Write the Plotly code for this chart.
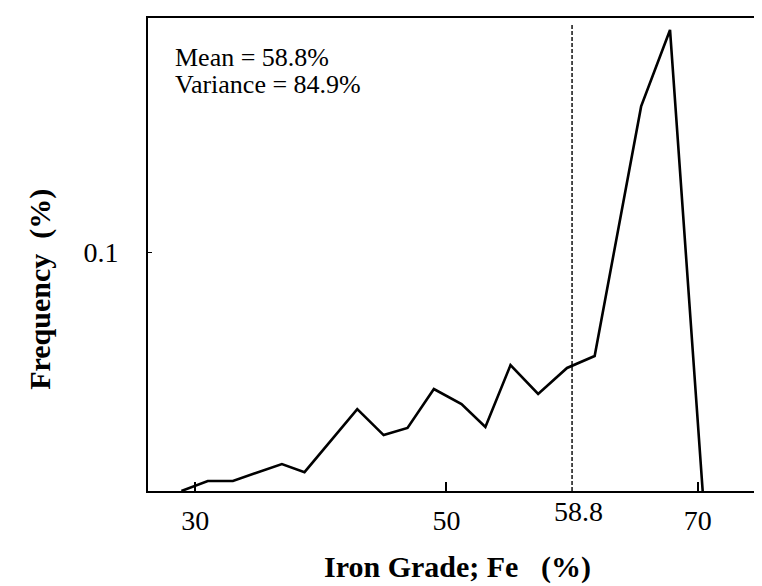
import plotly.graph_objects as go

# Iron grade (% Fe) vs frequency (%)
grade = [28.9, 31.0, 33.0, 36.9, 38.7, 42.9, 45.0, 46.9, 49.0, 51.2,
         53.1, 55.1, 57.3, 59.6, 61.8, 65.5, 67.8, 70.4]
freq = [0.0, 0.0042, 0.0042, 0.0113, 0.0079, 0.0343, 0.0234, 0.0264, 0.0427, 0.0364,
        0.0268, 0.0527, 0.0406, 0.0515, 0.0565, 0.161, 0.193, 0.0]

mean_pos = 60.0
mean_label = "58.8"
stats_lines = ["Mean = 58.8%", "Variance = 84.9%"]
x_ticks = [30, 50, 70]
y_ticks = [0.1]

serif = "Liberation Serif, Times New Roman, serif"

fig = go.Figure()
fig.add_trace(go.Scatter(x=grade, y=freq, mode="lines",
                         line=dict(color="black", width=2.6), showlegend=False))

# mean marker
fig.add_shape(type="line", x0=mean_pos, x1=mean_pos, y0=0, y1=0.985, yref="paper",
              line=dict(color="black", width=1.4, dash="4px,2px"))
fig.add_annotation(x=mean_pos + 0.5, y=0, yref="paper", yanchor="top", yshift=-3,
                   text=mean_label, showarrow=False, font=dict(family=serif, size=28))

# stats text, two lines set closer than the default line height
for i, line in enumerate(stats_lines):
    fig.add_annotation(x=0.04, y=1, xref="paper", yref="paper", xanchor="left",
                       yanchor="middle", yshift=-39 - 27 * i, showarrow=False, text=line,
                       font=dict(family=serif, size=26, color="black"))

fig.add_annotation(x=-0.174, y=0.427, xref="paper", yref="paper", textangle=-90,
                   xanchor="center", yanchor="middle",
                   showarrow=False, text="<b>Frequency  (%)</b>",
                   font=dict(family=serif, size=30, color="black"))

fig.add_annotation(x=0.497, y=0, xref="paper", yref="paper", xanchor="center",
                   yanchor="middle", yshift=-76,
                   showarrow=False, text="<b>Iron Grade; Fe   (%)</b>",
                   font=dict(family=serif, size=30, color="black"))

fig.update_layout(
    width=762, height=586,
    margin=dict(l=140, r=0, t=10, b=103),
    plot_bgcolor="white", paper_bgcolor="white",
    font=dict(family=serif, size=28, color="black"),
    xaxis=dict(range=[26.24, 75.76], tickvals=x_ticks, ticks="inside", ticklen=9,
               tickwidth=1.5, tickcolor="black", showline=True, linecolor="black",
               linewidth=2, mirror=True, showgrid=False, zeroline=False,
               ticklabelstandoff=3),
    yaxis=dict(range=[0, 0.198], tickvals=y_ticks, ticks="inside", ticklen=4,
               tickcolor="black", showline=True, linecolor="black", linewidth=2,
               showgrid=False, zeroline=False, ticklabelstandoff=22),
)

fig.write_html("out.html")
